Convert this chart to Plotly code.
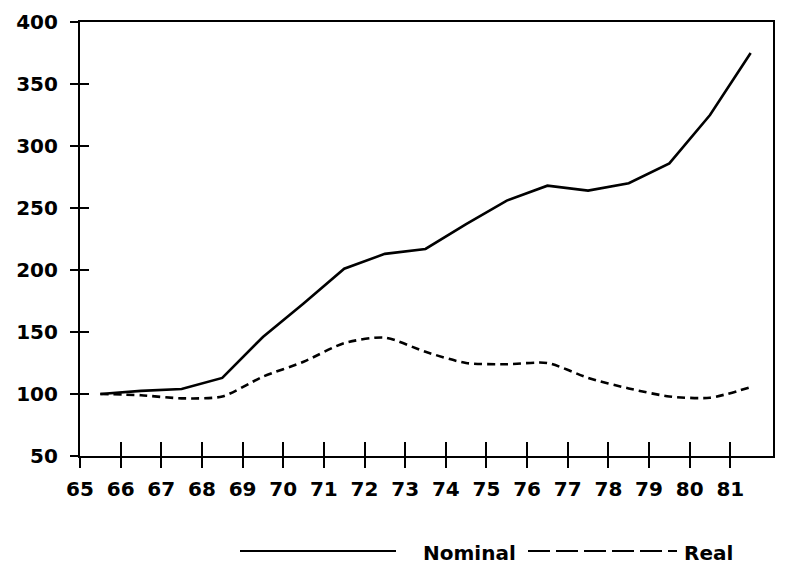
import plotly.graph_objects as go

years = [65.5, 66.5, 67.5, 68.5, 69.5, 70.5, 71.5, 72.5, 73.5, 74.5, 75.5, 76.5, 77.5, 78.5, 79.5, 80.5, 81.5]
nominal = [100, 102.5, 104, 113, 146, 173, 201, 213, 217, 237, 256, 268, 264, 270, 286, 325, 375]
real = [100, 99, 96.5, 98, 114, 126, 141, 145.5, 134, 125, 124, 125, 113, 104.5, 98, 97, 105.5]
x_ticks = list(range(65, 82))
x_tick_labels = [str(v) for v in x_ticks]
y_ticks = [50, 100, 150, 200, 250, 300, 350, 400]

FONT = "DejaVu Sans, Liberation Sans, Arial, sans-serif"
W, H = 790, 577
OFF = 8  # page body margin
# plot area in page pixels: left 80, top 22, right 773, bottom 456
ML = 80 - OFF
MT = 22 - OFF
MR = W - (773 - OFF)
MB = H - (456 - OFF)
PW, PH = W - ML - MR, H - MT - MB

def px_x(p):
    return (p - OFF - ML) / PW

def px_y(p):
    return (H - MB - (p - OFF)) / PH

fig = go.Figure()
fig.add_trace(go.Scatter(x=years, y=nominal, mode="lines", name="Nominal",
                         line=dict(color="black", width=2.6), xaxis="x", yaxis="y",
                         showlegend=False))
fig.add_trace(go.Scatter(x=years, y=real, mode="lines", name="Real",
                         line=dict(color="black", width=2.6, dash="8px,5px", shape="spline", smoothing=0.7),
                         xaxis="x2", yaxis="y2", showlegend=False))

common_x = dict(range=[65, 82.05], tickmode="array", tickvals=x_ticks, automargin=False,
                showgrid=False, zeroline=False, fixedrange=True)
common_y = dict(range=[50, 400], tickmode="array", tickvals=y_ticks, automargin=False,
                showgrid=False, zeroline=False, fixedrange=True)

tick_font = dict(family=FONT, size=20, color="black", weight="bold")

fig.update_layout(
    template="none",
    width=W, height=H,
    margin=dict(l=ML, r=MR, t=MT, b=MB),
    plot_bgcolor="white", paper_bgcolor="white",
    font=dict(family=FONT, size=20, color="black"),
    xaxis=dict(**common_x, ticktext=x_tick_labels, ticks="outside", ticklen=10, tickwidth=2,
               tickcolor="black", showline=True, linecolor="black", linewidth=2.2, mirror=True,
               tickfont=tick_font, ticklabelstandoff=4),
    xaxis2=dict(**common_x, overlaying="x", anchor="y2", side="bottom", ticks="inside", ticklen=14,
                tickwidth=2, tickcolor="black", showticklabels=False, showline=False),
    yaxis=dict(**common_y, ticks="outside", ticklen=8, tickwidth=2, tickcolor="black",
               showline=True, linecolor="black", linewidth=2.2, mirror=True,
               tickfont=tick_font, ticklabelstandoff=8),
    yaxis2=dict(**common_y, overlaying="y", anchor="x2", side="left", ticks="inside", ticklen=9,
                tickwidth=2, tickcolor="black", showticklabels=False, showline=False),
)

# custom legend below the chart
ly = 551
fig.add_shape(type="line", xref="paper", yref="paper", x0=px_x(240), x1=px_x(396),
              y0=px_y(ly), y1=px_y(ly), line=dict(color="black", width=2))
fig.add_shape(type="line", xref="paper", yref="paper", x0=px_x(528), x1=px_x(677),
              y0=px_y(ly), y1=px_y(ly), line=dict(color="black", width=2, dash="22px,6px"))
fig.add_annotation(x=px_x(421), y=px_y(ly + 2), xref="paper", yref="paper", text="<b>Nominal</b>",
                   showarrow=False, xanchor="left", yanchor="middle",
                   font=dict(family=FONT, size=20, color="black"))
fig.add_annotation(x=px_x(682), y=px_y(ly + 2), xref="paper", yref="paper", text="<b>Real</b>",
                   showarrow=False, xanchor="left", yanchor="middle",
                   font=dict(family=FONT, size=20, color="black"))

fig.write_html("out.html")
